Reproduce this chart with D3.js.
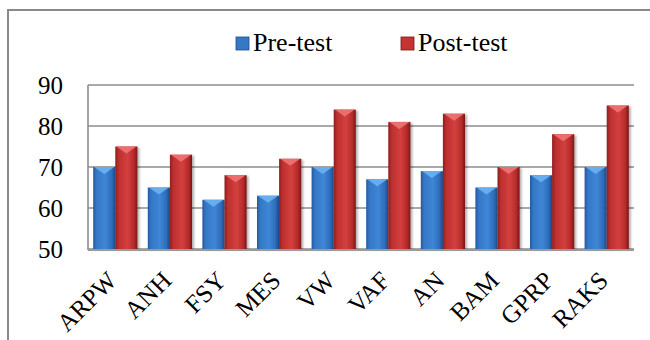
<!DOCTYPE html>
<html><head><meta charset="utf-8">
<script src="https://cdn.jsdelivr.net/npm/d3@7"></script>
<style>body{margin:0;background:#fff}svg{display:block}</style>
</head><body>
<script>
const categories = ["ARPW","ANH","FSY","MES","VW","VAF","AN","BAM","GPRP","RAKS"];
const preTest = [70,65,62,63,70,67,69,65,68,70];
const postTest = [75,73,68,72,84,81,83,70,78,85];
const seriesNames = ["Pre-test","Post-test"];
const yTicks = [50,60,70,80,90];

const FONT = '"Liberation Serif"';
const W = 650, H = 340;
const svg = d3.select("body").append("svg").attr("width", W).attr("height", H);
const defs = svg.append("defs");
function grad(id, stops){
  const g = defs.append("linearGradient").attr("id", id).attr("x1","0").attr("x2","1").attr("y1","0").attr("y2","0");
  stops.forEach(s => g.append("stop").attr("offset", s[0]).attr("stop-color", s[1]));
}
grad("gBlue", [[0,"#2459a0"],[0.15,"#3577c6"],[0.55,"#3f86d6"],[0.85,"#2d6bb8"],[1,"#1b4784"]]);
grad("gRed", [[0,"#8e1d1d"],[0.15,"#bd2f2f"],[0.55,"#d3403e"],[0.85,"#b52a2a"],[1,"#7a1616"]]);
const capColor = ["#6cb2f2","#ee7474"];
const fills = ["url(#gBlue)","url(#gRed)"];
const legendFill = ["#3578c6","#c73232"];

// outer frame
svg.append("path").attr("d","M8,340 L8,10 L650,10").attr("fill","none").attr("stroke","#8a8a8a").attr("stroke-width",2);

const m = {left:88, right:634, top:85, bottom:249};
const x0 = d3.scaleBand().domain(categories).range([m.left, m.right]).paddingInner(0.19).paddingOuter(0.095);
const x1 = d3.scaleBand().domain(seriesNames).range([0, x0.bandwidth()]);
const y = d3.scaleLinear().domain([50,90]).range([m.bottom, m.top]);

// gridlines
svg.append("g").selectAll("line").data(yTicks).join("line")
  .attr("x1", m.left).attr("x2", m.right).attr("y1", d=>y(d)).attr("y2", d=>y(d))
  .attr("stroke","#8c8c8c").attr("stroke-width",1.6);
svg.append("line").attr("x1",m.left).attr("x2",m.left).attr("y1",m.top).attr("y2",m.bottom+1)
  .attr("stroke","#8c8c8c").attr("stroke-width",1.6);

// y axis labels
const yAxis = d3.axisLeft(y).tickValues(yTicks).tickSize(0).tickPadding(25);
const ya = svg.append("g").attr("transform",`translate(${m.left},0)`).call(yAxis);
ya.select(".domain").remove();
ya.selectAll("text").style("font-family",FONT).style("font-size","25px").attr("fill","#000");

// shadow filter
const f = defs.append("filter").attr("id","sh").attr("x","-20%").attr("y","-10%").attr("width","150%").attr("height","130%");
f.append("feDropShadow").attr("dx",2).attr("dy",1).attr("stdDeviation",1.2).attr("flood-color","#000").attr("flood-opacity",0.3);

const data = [];
categories.forEach((c,i) => {
  data.push({c, s:0, v:preTest[i]});
  data.push({c, s:1, v:postTest[i]});
});
const bars = svg.append("g").selectAll("g").data(data).join("g");
bars.append("rect")
  .attr("x", d => x0(d.c) + x1(seriesNames[d.s]))
  .attr("y", d => y(d.v))
  .attr("width", x1.bandwidth())
  .attr("height", d => m.bottom - y(d.v))
  .attr("fill", d => fills[d.s])
  .attr("filter","url(#sh)");
bars.append("path")
  .attr("d", d => {
    const bx = x0(d.c) + x1(seriesNames[d.s]), bw = x1.bandwidth(), by = y(d.v);
    return `M${bx+1},${by} L${bx+bw-1},${by} L${bx+bw/2},${by+7} Z`;
  })
  .attr("fill", d => capColor[d.s]).attr("opacity",0.9);

// floor line
svg.append("line").attr("x1",m.left).attr("x2",m.right).attr("y1",m.bottom+1).attr("y2",m.bottom+1)
  .attr("stroke","#9a9a9a").attr("stroke-width",2);

// x labels
svg.append("g").selectAll("text").data(categories).join("text")
  .attr("transform", d => `translate(${x0(d)+x0.bandwidth()/2+3},${m.bottom+33}) rotate(-45)`)
  .attr("text-anchor","end")
  .style("font-family",FONT).style("font-size","25px")
  .text(d=>d);

// legend
const leg = svg.append("g");
const legX = [236, 401];
seriesNames.forEach((s,i) => {
  leg.append("rect").attr("x",legX[i]).attr("y",37).attr("width",13).attr("height",13).attr("fill",legendFill[i])
    .attr("stroke", i===0?"#1f4d8a":"#7a1616").attr("stroke-width",0.8);
  leg.append("text").attr("x",legX[i]+17).attr("y",51).style("font-family",FONT).style("font-size","26px").text(s);
});
</script>
</body></html>
